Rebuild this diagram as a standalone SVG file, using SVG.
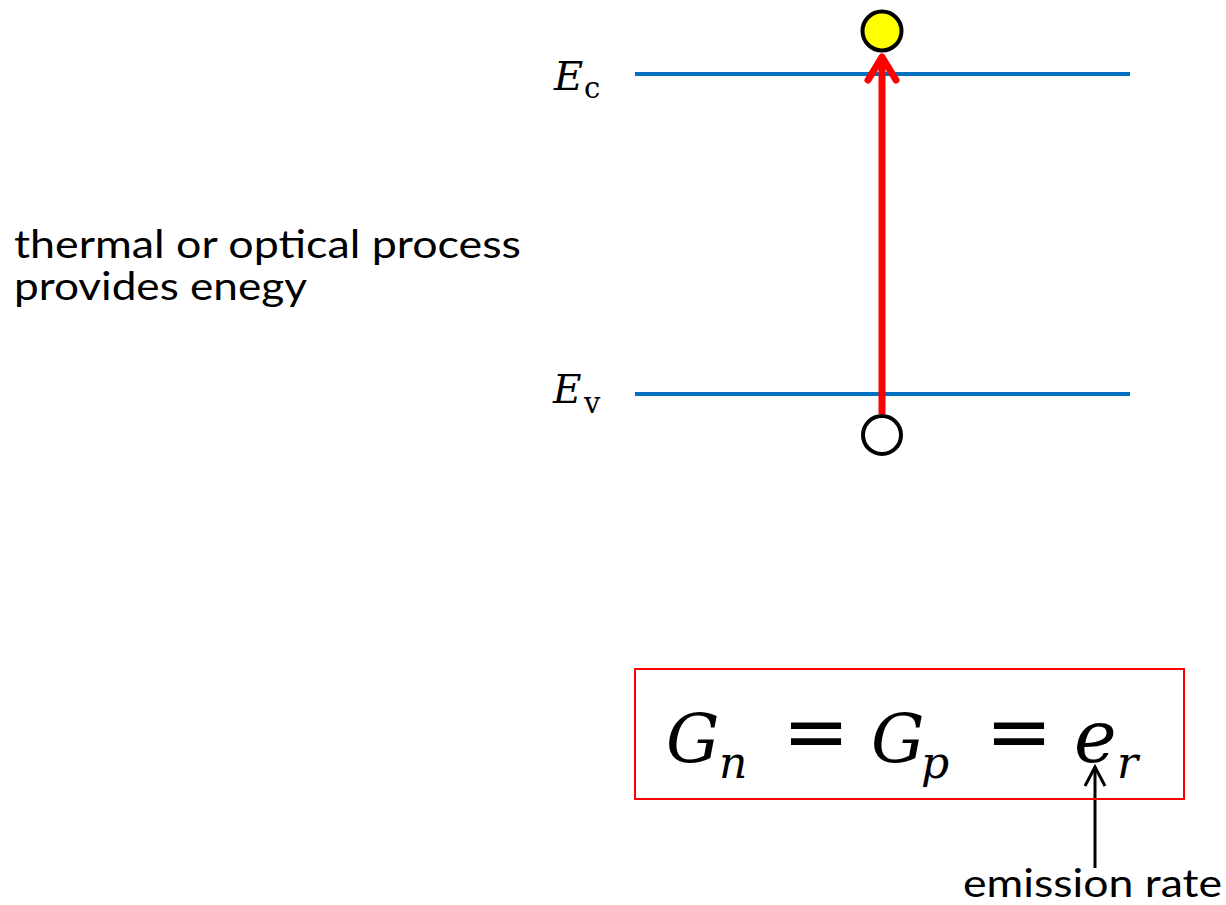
<svg xmlns="http://www.w3.org/2000/svg" width="1226" height="905" viewBox="0 0 1226 905">
<defs>
<style>
.txt{font-family:Lato,"Open Sans","Liberation Sans",sans-serif;font-size:39px;fill:#000}
.mi{font-family:"DejaVu Serif","Liberation Serif",serif;font-style:italic;fill:#000}
.mu{font-family:"DejaVu Serif","Liberation Serif",serif;fill:#000}
.eq{font-family:"DejaVu Sans","Liberation Sans",sans-serif;font-size:80px;text-anchor:middle;fill:#000}
.band{stroke:#0070C0;stroke-width:4;fill:none}
</style>
</defs>
<rect width="1226" height="905" fill="#fff"/>
<g id="band-ec">
<line class="band" x1="635" y1="74" x2="1130" y2="74"/>
<text class="mi" x="554" y="90" font-size="40">E</text>
<text class="mu" x="584" y="98" font-size="29">c</text>
</g>
<g id="band-ev">
<line class="band" x1="635" y1="394" x2="1130" y2="394"/>
<text class="mi" x="553" y="403" font-size="39">E</text>
<text class="mu" x="584" y="413" font-size="29">v</text>
</g>
<g id="label-process">
<text class="txt" x="14" y="258" textLength="507" lengthAdjust="spacingAndGlyphs">thermal or optical process</text>
<text class="txt" x="14" y="300" textLength="293" lengthAdjust="spacingAndGlyphs">provides enegy</text>
</g>
<g id="connectors">
<line x1="882" y1="414" x2="882" y2="58" stroke="#FF0000" stroke-width="7"/>
<polyline points="868,80 882,57 896,80" fill="none" stroke="#FF0000" stroke-width="7" stroke-linecap="round" stroke-linejoin="round"/>
<line x1="1095" y1="868" x2="1095" y2="767" stroke="#000" stroke-width="3"/>
<polyline points="1085,786 1095,767 1105,786" fill="none" stroke="#000" stroke-width="3"/>
</g>
<g id="electron">
<circle cx="882" cy="31" r="19.5" fill="#FFFF00" stroke="#000" stroke-width="4"/>
</g>
<g id="hole">
<circle cx="882" cy="435" r="19" fill="#fff" stroke="#000" stroke-width="4"/>
</g>
<g id="equation">
<rect x="635" y="669" width="549" height="130" fill="none" stroke="#FF0000" stroke-width="2"/>
<text class="mi" x="666" y="762" font-size="67">G</text>
<text class="mi" x="719" y="778" font-size="44">n</text>
<text class="eq" x="816" y="759">=</text>
<text class="mi" x="871" y="762" font-size="67">G</text>
<text class="mi" x="921" y="778" font-size="44">p</text>
<text class="eq" x="1019" y="759">=</text>
<text class="mi" x="1074" y="762" font-size="72">e</text>
<text class="mi" x="1117" y="778" font-size="44">r</text>
</g>
<g id="label-emission">
<text class="txt" x="963" y="897" textLength="259" lengthAdjust="spacingAndGlyphs">emission rate</text>
</g>
</svg>
